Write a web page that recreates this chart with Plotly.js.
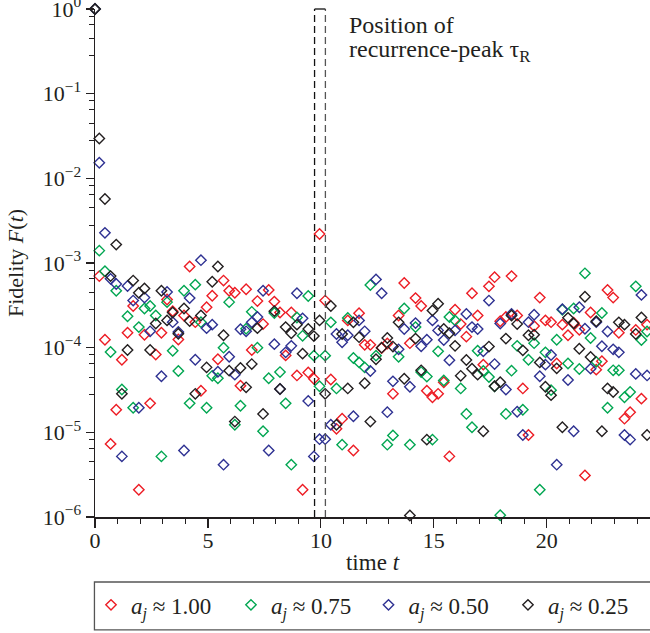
<!DOCTYPE html>
<html><head><meta charset="utf-8">
<script src="https://cdn.plot.ly/plotly-3.0.1.min.js"></script>
<style>body{margin:0;background:#fff}#chart{width:650px;height:633px}</style>
</head><body><div id="chart"></div>
<script>
// time samples
const times = [0,
 0.19,0.44,0.69,0.94,1.19,1.44,1.69,1.94,2.19,2.44,
 2.69,2.94,3.19,3.44,3.69,3.94,4.19,4.44,4.69,4.94,
 5.19,5.44,5.69,5.94,6.19,6.44,6.69,6.94,7.19,7.44,
 7.69,7.94,8.19,8.44,8.69,8.94,9.19,9.44,9.69,9.94,
 10.19,10.44,10.69,10.94,11.19,11.44,11.69,11.94,12.19,12.44,
 12.69,12.94,13.19,13.44,13.69,13.94,14.19,14.44,14.69,14.94,
 15.19,15.44,15.69,15.94,16.19,16.44,16.69,16.94,17.19,17.44,
 17.69,17.94,18.19,18.44,18.69,18.94,19.19,19.44,19.69,19.94,
 20.19,20.44,20.69,20.94,21.19,21.44,21.69,21.94,22.19,22.44,
 22.69,22.94,23.19,23.44,23.69,23.94,24.19,24.44];

// fidelity, a_j ≈ 1.00
const fidelity100 = [1,
 7.0e-4,1.24e-4,7.3e-6,1.85e-5,7.2e-5,1.5e-4,3.1e-4,2.1e-6,1.42e-4,2.2e-5,
 8.3e-5,1.5e-4,3.7e-4,2.7e-4,1.25e-4,2.4e-4,9.1e-4,2.0e-4,3.1e-5,3.0e-4,
 4.1e-4,7.3e-5,6.2e-4,4.7e-4,4.45e-4,3.55e-5,4.9e-4,9.4e-5,3.55e-4,1.9e-4,
 4.8e-4,3.5e-4,2.6e-4,8.1e-5,2.6e-4,4.7e-5,2.1e-6,5.1e-5,4.3e-5,2.2e-3,
 3.6e-4,4.2e-5,1.1e-5,1.45e-5,2.1e-4,6.1e-6,2.55e-4,1.08e-4,1.08e-4,null,
 9.9e-5,1.12e-4,2.85e-5,2.4e-4,5.8e-4,1.13e-4,3.85e-4,3.1e-4,3.1e-5,2.6e-5,
 2.85e-5,3.9e-5,5.2e-6,2.8e-4,1.9e-4,1.35e-4,4.4e-4,2.4e-4,6.3e-5,5.3e-4,
 6.8e-4,2.05e-4,2.3e-4,7.0e-4,2.4e-4,3.3e-5,9.3e-6,1.8e-4,3.9e-4,2.1e-4,
 2.0e-4,6.5e-5,1.87e-4,1.4e-4,1.97e-4,1.63e-4,3.1e-6,2.6e-4,5.5e-5,6.9e-5,
 4.8e-4,3.9e-4,1.5e-4,1.45e-5,1.73e-5,1.62e-4,2.5e-5,1.87e-4];

// fidelity, a_j ≈ 0.75
const fidelity075 = [1,
 1.4e-3,8.0e-4,8.9e-5,4.7e-4,3.2e-5,2.35e-4,1.95e-5,1.75e-4,2.9e-4,3.1e-4,
 2.4e-4,5.2e-6,3.45e-4,9.2e-5,5.3e-5,4.7e-4,2.2e-5,5.55e-4,2.0e-4,1.95e-5,
 4.65e-5,4.35e-5,1.0e-4,3.45e-4,1.23e-5,2.06e-5,1.67e-4,2.65e-4,1.0e-4,1.03e-5,
 4.35e-5,2.57e-4,5.15e-5,2.2e-5,4.15e-6,2.27e-4,1.38e-4,4.07e-4,8.05e-5,3.5e-5,
 8.05e-5,1.99e-4,3.3e-5,7.15e-6,2.24e-4,7.55e-5,6.7e-5,5.85e-5,5.5e-4,8.05e-5,
 null,7.15e-6,9.2e-6,7.8e-5,2.9e-4,7.15e-6,1.75e-4,5.15e-5,4.55e-5,8.2e-6,
 9.05e-5,4.1e-5,2.3e-4,2.1e-4,3.3e-5,1.65e-5,1.15e-5,9.2e-5,5.3e-5,4.5e-5,
 3.5e-5,1.05e-6,1.65e-5,5.35e-5,1.05e-4,1.85e-5,7.2e-5,1.13e-4,2.1e-6,8.8e-5,
 3.15e-5,1.24e-4,2.8e-4,6.5e-5,2.9e-4,5.6e-5,7.55e-4,1.3e-4,6.8e-5,2.57e-4,
 1.95e-5,5.4e-5,5.4e-5,2.6e-5,3.0e-5,5.3e-4,1.23e-4,1.55e-4];

// fidelity, a_j ≈ 0.50
const fidelity050 = [1,
 1.53e-2,2.27e-3,6.5e-4,5.65e-4,5.2e-6,5.35e-4,3.6e-4,1.95e-5,3.9e-4,1.56e-4,
 null,4.6e-5,4.55e-4,2.0e-4,1.53e-4,6.1e-6,3.85e-4,7.2e-5,1.08e-3,1.7e-4,
 1.87e-4,5.2e-5,4.15e-6,7.8e-5,4.8e-5,1.65e-4,1.56e-4,1.99e-4,2.3e-4,4.7e-4,
 6.1e-6,1.1e-4,3.25e-5,8.8e-5,1.05e-4,4.4e-4,2.22e-4,2.35e-5,5.2e-6,8.3e-6,
 8.3e-6,1.23e-5,1.45e-4,1.16e-4,1.4e-4,1.55e-5,2.1e-4,1.56e-4,5.3e-5,6.4e-4,
 4.4e-4,1.73e-5,4.0e-5,9.55e-5,1.66e-4,3.45e-5,1.95e-4,1.04e-4,1.24e-4,2.1e-4,
 1.6e-4,1.23e-4,7.1e-5,1.6e-4,null,2.5e-4,1.75e-4,1.66e-4,9.05e-5,3.6e-4,
 6.4e-5,1.93e-4,3.2e-5,2.5e-4,1.75e-5,9.3e-6,2.0e-4,2.45e-4,4.6e-5,6.3e-5,
 8.2e-5,4.15e-6,2.85e-4,4.15e-5,1.03e-5,3.0e-4,1.67e-4,5.65e-5,2.0e-4,1.04e-4,
 1.55e-4,9.55e-5,8.8e-5,9.3e-6,8.2e-6,4.9e-5,4.2e-4,4.7e-5];

// fidelity, a_j ≈ 0.25
const fidelity025 = [1,
 2.95e-2,5.7e-3,7.0e-4,1.65e-3,2.85e-5,9.4e-5,6.2e-4,4.45e-4,5.0e-4,9.4e-5,
 1.93e-4,4.7e-4,2.1e-4,2.6e-4,1.46e-4,2.9e-4,2.06e-4,2.85e-5,2.4e-4,5.85e-5,
 6.0e-4,9.1e-4,1.4e-4,5.35e-5,1.34e-5,5.75e-5,3.4e-5,6.4e-5,1.7e-4,1.65e-5,
 null,2.7e-4,3.25e-5,1.75e-4,1.48e-4,1.87e-4,8.5e-5,1.66e-4,1.37e-4,2.1e-4,
 2.85e-5,3.1e-4,1.23e-5,1.45e-4,3.3e-5,1.99e-4,1.33e-4,3.8e-5,1.34e-5,7.3e-5,
 1.0e-4,1.3e-4,1.03e-4,1.99e-4,4.3e-5,1.04e-6,1.28e-4,5.4e-5,8.2e-6,2.75e-4,
 3.3e-4,1.66e-4,1.48e-4,1.05e-4,4.65e-5,7.15e-5,5.65e-5,4.8e-5,1.03e-5,1.03e-4,
 3.5e-5,3.9e-5,1.28e-4,2.4e-4,1.9e-4,9.3e-5,1.4e-4,1.42e-4,6.7e-5,3.45e-5,
 2.75e-5,5.7e-5,1.15e-5,2.25e-4,1.93e-4,9.7e-5,4.0e-4,7.75e-5,2.05e-4,1.03e-5,
 3.3e-5,3.0e-5,1.99e-4,1.87e-4,null,1.45e-4,2.27e-4,9.3e-6];

const seriesNames = ["<i>a<sub>j</sub></i> ≈ 1.00", "<i>a<sub>j</sub></i> ≈ 0.75", "<i>a<sub>j</sub></i> ≈ 0.50", "<i>a<sub>j</sub></i> ≈ 0.25"];
const seriesColors = ["#ed1c24", "#00a651", "#2e3192", "#231f20"];
const seriesValues = [fidelity100, fidelity075, fidelity050, fidelity025];

const xTickVals = [0, 5, 10, 15, 20];
const xMinorVals = [1,2,3,4,6,7,8,9,11,12,13,14,16,17,18,19,21,22,23,24];
const yTickVals = [1e-6, 1e-5, 1e-4, 1e-3, 1e-2, 1e-1, 1];
const yTickText = ["10<sup>−6</sup>","10<sup>−5</sup>","10<sup>−4</sup>","10<sup>−3</sup>","10<sup>−2</sup>","10<sup>−1</sup>","10<sup>0</sup>"];
const yMinorMantissas = [0.82, 0.65, 0.45, 0.28];
const recurrenceWindow = [9.72, 10.2];

const yMinorVals = [];
for (let e = -6; e < 0; e++) yMinorMantissas.forEach(m => yMinorVals.push(m * Math.pow(10, e + 1)));

const serif = "Liberation Serif, Times New Roman, serif";
const ink = "#231f20";

const legendIds = ["legend", "legend2", "legend3", "legend4"];
const legendX = [-0.0072, 0.245, 0.4928, 0.7441];

const traces = seriesValues.map((vals, i) => ({
  type: "scatter", mode: "markers", x: times, y: vals, name: seriesNames[i],
  legend: legendIds[i],
  marker: {symbol: "diamond-open", size: 8, color: seriesColors[i], line: {width: 1.4, color: seriesColors[i]}},
  cliponaxis: false
}));

const layout = {
  width: 650, height: 633,
  margin: {l: 95, r: 0, t: 9, b: 116, autoexpand: false},
  paper_bgcolor: "#fff", plot_bgcolor: "#fff",
  font: {family: serif, color: ink, size: 22},
  showlegend: true,
  xaxis: {
    range: [0, 24.57], showgrid: false, zeroline: false,
    showline: true, linecolor: ink, linewidth: 1.5,
    ticks: "outside", ticklen: 9, tickwidth: 1.2, tickcolor: ink,
    tickmode: "array", tickvals: xTickVals, ticklabelstandoff: -6,
    tickfont: {family: serif, size: 22, color: ink},
    minor: {tickmode: "array", tickvals: xMinorVals, ticks: "outside", ticklen: 5, tickwidth: 1, tickcolor: ink},
    title: {text: "time <i>t</i>", font: {family: serif, size: 23, color: ink}, standoff: 2}
  },
  yaxis: {
    type: "log", range: [-6, 0], showgrid: false, zeroline: false,
    showline: true, linecolor: ink, linewidth: 1.5,
    ticks: "outside", ticklen: 8, tickwidth: 1.2, tickcolor: ink,
    tickmode: "array", tickvals: yTickVals, ticktext: yTickText,
    ticklabeloverflow: "allow",
    tickfont: {family: serif, size: 22, color: ink},
    minor: {tickmode: "array", tickvals: yMinorVals, ticks: "outside", ticklen: 5, tickwidth: 1, tickcolor: ink},
    title: {text: "Fidelity <i>F</i>(<i>t</i>)", font: {family: serif, size: 22, color: ink}, standoff: 13}
  },
  shapes: [
    {type: "line", xref: "x", yref: "paper", x0: recurrenceWindow[0], x1: recurrenceWindow[0], y0: 0, y1: 1,
     line: {color: "#111", width: 1.3, dash: "7px,4px"}},
    {type: "line", xref: "x", yref: "paper", x0: recurrenceWindow[1], x1: recurrenceWindow[1], y0: 0, y1: 1,
     line: {color: "#555", width: 1.3, dash: "7px,4px"}},
    {type: "line", xref: "x", yref: "paper", x0: recurrenceWindow[0], x1: recurrenceWindow[1], y0: 1, y1: 1,
     line: {color: "#111", width: 1.3}},
    {type: "rect", xref: "paper", yref: "paper", x0: -0.001, x1: 1.02, y0: -0.222, y1: -0.128,
     line: {color: "#555", width: 1.3}, fillcolor: "rgba(0,0,0,0)"}
  ],
  annotations: [
    {xref: "x", yref: "paper", x: 11.15, y: 0.9988, xanchor: "left", yanchor: "top", align: "left", showarrow: false,
     text: "Position of", font: {family: serif, size: 24, color: ink}},
    {xref: "x", yref: "paper", x: 11.15, y: 0.9516, xanchor: "left", yanchor: "top", align: "left", showarrow: false,
     text: "recurrence-peak τ<sub>R</sub>", font: {family: serif, size: 24, color: ink}}
  ]
};

legendIds.forEach((id, i) => {
  layout[id] = {
    orientation: "h", x: legendX[i], xanchor: "left", y: -0.173, yanchor: "middle",
    font: {family: serif, size: 23, color: ink},
    bgcolor: "rgba(0,0,0,0)", borderwidth: 0, itemwidth: 30
  };
});

Plotly.newPlot("chart", traces, layout, {displayModeBar: false, staticPlot: true});
</script>
</body></html>
